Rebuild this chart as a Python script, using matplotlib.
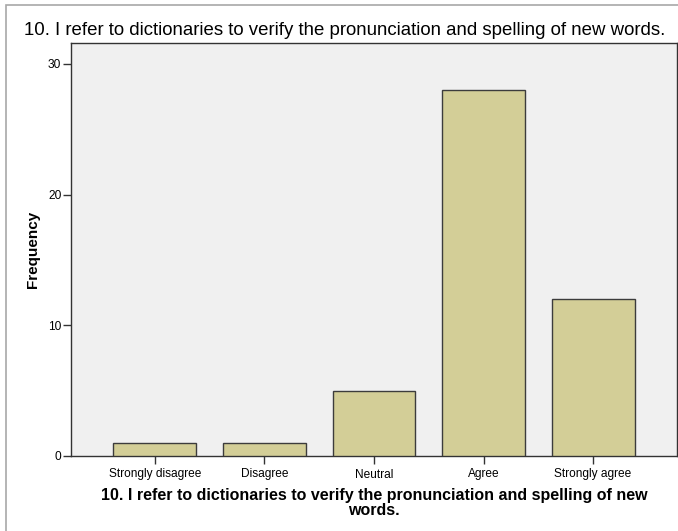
import matplotlib
matplotlib.use("Agg")
import matplotlib.pyplot as plt
from matplotlib.patches import Rectangle

categories = ["Strongly disagree", "Disagree", "Neutral", "Agree", "Strongly agree"]
frequencies = [1, 1, 5, 28, 12]
yticks = [0, 10, 20, 30]
title = "10. I refer to dictionaries to verify the pronunciation and spelling of new words."
xlabel = "10. I refer to dictionaries to verify the pronunciation and spelling of new\nwords."
ylabel = "Frequency"

plt.rcParams['font.family'] = ['Liberation Sans', 'DejaVu Sans']

W, H = 678, 531
fig = plt.figure(figsize=(W / 100, H / 100), dpi=100)
fig.patch.set_facecolor("white")

# outer frame
fig.add_artist(Rectangle((6 / W, -0.01), 1.0, 1 - 5 / H + 0.01, transform=fig.transFigure,
                         fill=False, edgecolor="#a8a8a8", linewidth=1.2))

ax = fig.add_axes([71 / W, 1 - 456 / H, (677 - 71) / W, (456 - 43) / H])
ax.set_facecolor("#f0f0f0")
x = list(range(len(categories)))
ax.bar(x, frequencies, width=0.757, color="#d3ce97", edgecolor="#3c3c3c", linewidth=1.0, zorder=3)
ax.set_xlim(-0.766, 4.766)
ax.set_ylim(0, 31.6)
ax.set_xticks(x)
ax.set_xticklabels(categories, fontsize=8.6)
ax.set_yticks(yticks)
ax.set_yticklabels([str(t) for t in yticks], fontsize=8.6)
ax.tick_params(axis="both", direction="out", length=6, width=1, color="#333333")
ax.tick_params(axis="y", pad=1)
ax.tick_params(axis="x", pad=3)
for s in ax.spines.values():
    s.set_color("#333333")
    s.set_linewidth(1.0)

fig.text(33 / W, 1 - 249.5 / H, ylabel, fontsize=11, fontweight="bold", rotation=90,
         ha="center", va="center")
fig.text(374 / W, 1 - 503 / H, xlabel, fontsize=11.5, fontweight="bold", ha="center",
         va="center", multialignment="center", linespacing=1.0)

fig.text(24 / W, 1 - 31 / H, title, fontsize=13.4, ha="left", va="center")

fig.savefig("out.png", dpi=100)
